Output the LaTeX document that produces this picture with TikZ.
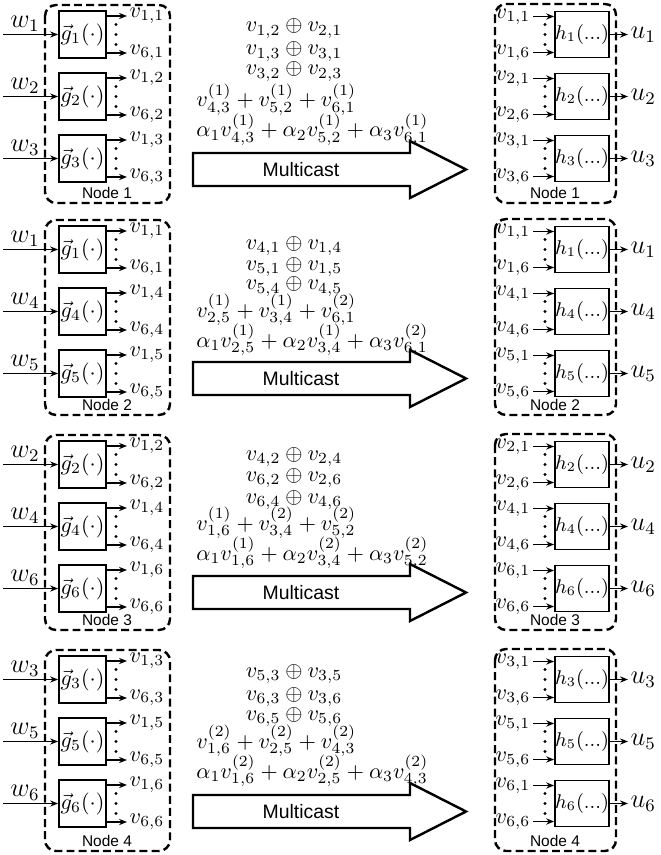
\documentclass[tikz,border=0pt]{standalone}
\usepackage{amsmath}
\usepackage{amssymb}
\usepackage{fontspec}
\setsansfont{Liberation Sans}
\usetikzlibrary{arrows.meta}
\tikzset{
  mcnode/.style={draw, line width=1.1pt, dash pattern=on 3.6pt off 1.9pt, rounded corners=5pt},
  mcfun/.style={draw, line width=0.8pt, minimum width=21.3pt, minimum height=21.3pt, inner sep=0pt},
  mcdec/.style={draw, line width=0.8pt, minimum width=22.6pt, minimum height=20.8pt, inner sep=0pt, font=\small},
  mcsig/.style={-{Stealth[length=3.6pt,width=2.8pt]}, line width=0.6pt},
  mccast/.style={draw, line width=1.1pt, line join=miter},
  mclab/.style={inner sep=1pt},
  mctag/.style={font=\sffamily\fontsize{7}{8}\selectfont, inner sep=0pt},
  mcxor/.style={anchor=base, inner sep=0pt, text height=5pt, text depth=2pt},
  mcsum/.style={anchor=base west, inner sep=0pt}
}

\begin{document}
\begin{tikzpicture}[x=0.4525pt, y=-0.4525pt]
  \useasboundingbox (0,0) rectangle (661,855);
  \foreach \row/\nd/\ia/\ib/\ic/\bt/\at in {0/1/1/2/3/203/153, 1/2/1/4/5/415/362,
      2/3/2/4/6/630/576, 3/4/3/5/6/851/795} {
    \pgfmathsetmacro\rt{5+215*\row}
    % encoding node
    \draw[mcnode] (45,\rt) rectangle (170,\bt);
    \node[mctag] (nl\nd) at (107,\bt-10) {Node \nd};
    % decoding node
    \draw[mcnode] (495,\rt-1) rectangle (616,\bt);
    \node[mctag] (nr\nd) at (555,\bt-10) {Node \nd};
    \foreach \gi [count=\gj from 0] in {\ia,\ib,\ic} {
      \pgfmathsetmacro\yc{\rt+29.5+62*\gj}
      \node[mcfun] (g\nd\gi) at (82.5,\yc) {$\vec{g}_{\gi}(\cdot)$};
      \coordinate (wi\nd\gi) at (3,\yc);
      \node[mclab, anchor=south, font=\large] (w\nd\gi) at (25,\yc) {$w_{\gi}$};
      \draw[mcsig] (wi\nd\gi) -- (g\nd\gi);
      \node[mclab, anchor=west] (vt\nd\gi) at (127,\yc-18.5) {$v_{1,\gi}$};
      \node[mclab, anchor=west] (vb\nd\gi) at (127,\yc+18.5) {$v_{6,\gi}$};
      \draw[mcsig] (g\nd\gi.east |- vt\nd\gi.west) -- (vt\nd\gi.west);
      \draw[mcsig] (g\nd\gi.east |- vb\nd\gi.west) -- (vb\nd\gi.west);
      \foreach \dd in {-10,0,10} \fill (116,\yc+\dd) circle (0.75pt);
      \node[mcdec] (h\nd\gi) at (582,\yc) {$h_{\gi}(...)$};
      \node[mclab, anchor=east] (it\nd\gi) at (533,\yc-18) {$v_{\gi,1}$};
      \node[mclab, anchor=east] (ib\nd\gi) at (533,\yc+18) {$v_{\gi,6}$};
      \draw[mcsig] (it\nd\gi.east) -- (h\nd\gi.west |- it\nd\gi.east);
      \draw[mcsig] (ib\nd\gi.east) -- (h\nd\gi.west |- ib\nd\gi.east);
      \foreach \dd in {-10,0,10} \fill (545,\yc+\dd) circle (0.75pt);
      \node[mclab, anchor=west, font=\large] (u\nd\gi) at (628,\yc) {$u_{\gi}$};
      \draw[mcsig] (h\nd\gi) -- (u\nd\gi.west);
    }
    % multicast arrow
    \draw[mccast] (193,\at) -- (410,\at) -- (410,\at-12) -- (466,\at+16.5)
      -- (410,\at+45) -- (410,\at+33) -- (193,\at+33) -- cycle;
    \node[font=\sffamily\fontsize{8.8}{10}\selectfont] (mc\nd) at (301,\at+16.5) {Multicast};
  }
  % node 1
  \node[mcxor] (xa1) at (294,32) {$v_{1,2}\oplus v_{2,1}$};
  \node[mcxor] (xb1) at (294,55) {$v_{1,3}\oplus v_{3,1}$};
  \node[mcxor] (xc1) at (294,75) {$v_{3,2}\oplus v_{2,3}$};
  \node[mcsum] (sa1) at (196,107) {$v^{(1)}_{4,3}+v^{(1)}_{5,2}+v^{(1)}_{6,1}$};
  \node[mcsum] (sb1) at (196,137) {$\alpha_1v^{(1)}_{4,3}+\alpha_2v^{(1)}_{5,2}+\alpha_3v^{(1)}_{6,1}$};
  % node 2
  \node[mcxor] (xa2) at (294,249) {$v_{4,1}\oplus v_{1,4}$};
  \node[mcxor] (xb2) at (294,270) {$v_{5,1}\oplus v_{1,5}$};
  \node[mcxor] (xc2) at (294,290) {$v_{5,4}\oplus v_{4,5}$};
  \node[mcsum] (sa2) at (196,317) {$v^{(1)}_{2,5}+v^{(1)}_{3,4}+v^{(2)}_{6,1}$};
  \node[mcsum] (sb2) at (196,347) {$\alpha_1v^{(1)}_{2,5}+\alpha_2v^{(1)}_{3,4}+\alpha_3v^{(2)}_{6,1}$};
  % node 3
  \node[mcxor] (xa3) at (294,460) {$v_{4,2}\oplus v_{2,4}$};
  \node[mcxor] (xb3) at (294,481) {$v_{6,2}\oplus v_{2,6}$};
  \node[mcxor] (xc3) at (294,503) {$v_{6,4}\oplus v_{4,6}$};
  \node[mcsum] (sa3) at (196,530) {$v^{(1)}_{1,6}+v^{(2)}_{3,4}+v^{(2)}_{5,2}$};
  \node[mcsum] (sb3) at (196,560) {$\alpha_1v^{(1)}_{1,6}+\alpha_2v^{(2)}_{3,4}+\alpha_3v^{(2)}_{5,2}$};
  % node 4
  \node[mcxor] (xa4) at (294,677) {$v_{5,3}\oplus v_{3,5}$};
  \node[mcxor] (xb4) at (294,700) {$v_{6,3}\oplus v_{3,6}$};
  \node[mcxor] (xc4) at (294,720) {$v_{6,5}\oplus v_{5,6}$};
  \node[mcsum] (sa4) at (196,748) {$v^{(2)}_{1,6}+v^{(2)}_{2,5}+v^{(2)}_{4,3}$};
  \node[mcsum] (sb4) at (196,778) {$\alpha_1v^{(2)}_{1,6}+\alpha_2v^{(2)}_{2,5}+\alpha_3v^{(2)}_{4,3}$};
\end{tikzpicture}
\end{document}
